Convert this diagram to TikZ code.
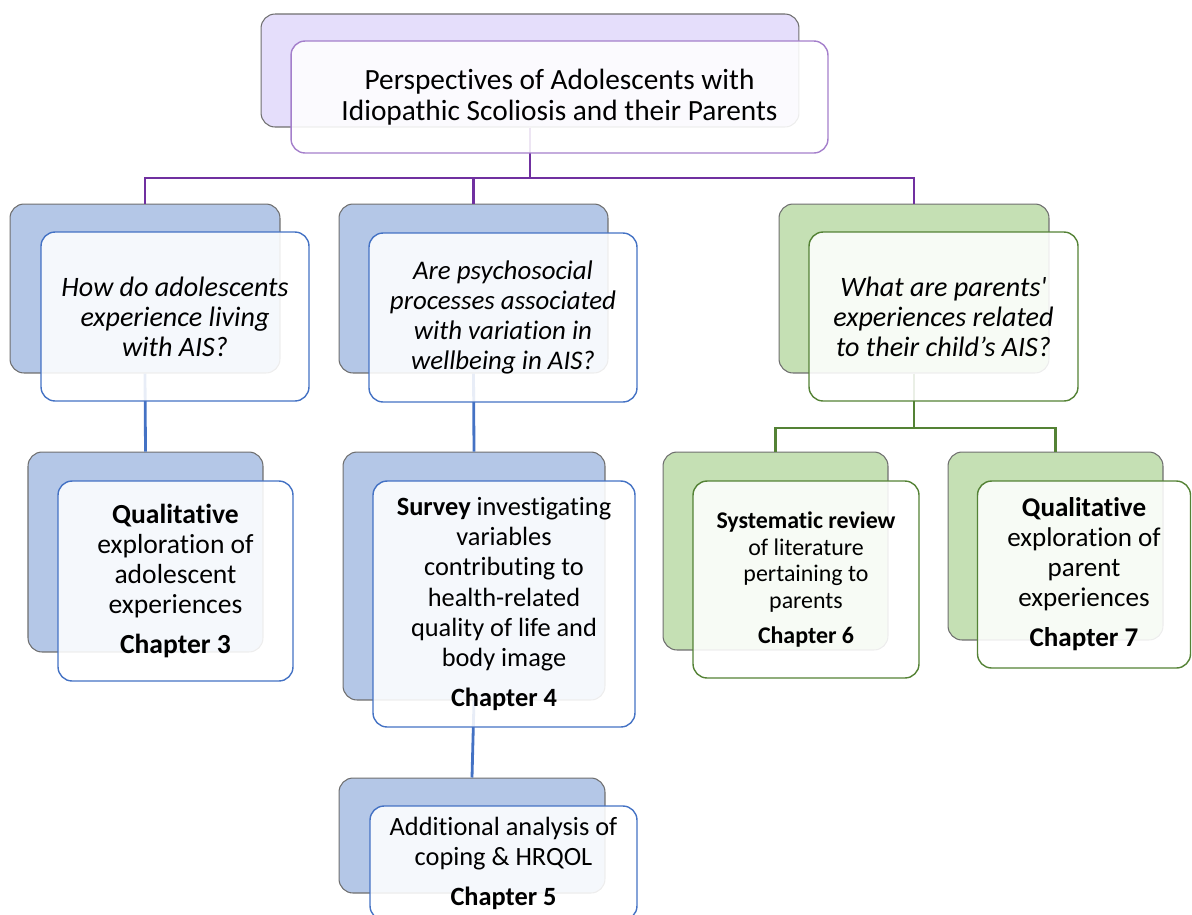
\documentclass[tikz,border=0pt]{standalone}
\usepackage{fontspec}
\setmainfont[Ligatures=NoCommon, RawFeature={-liga;-clig;-calt;-dlig}]{Carlito}
\usetikzlibrary{positioning}

\definecolor{lilac}{HTML}{E5DEFB}
\definecolor{lilacline}{HTML}{A47FCB}
\definecolor{plum}{HTML}{7030A0}
\definecolor{skyfill}{HTML}{B4C7E7}
\definecolor{skyline}{HTML}{4472C4}
\definecolor{sagefill}{HTML}{C5E0B4}
\definecolor{sageline}{HTML}{548235}
\definecolor{shade}{HTML}{6F6F6F}

\tikzset{
  backcard/.style={draw=shade, line width=0.6pt, rounded corners=8pt, inner sep=0pt},
  frontcard/.style={draw=#1, line width=0.8pt, rounded corners=8pt, fill=white,
    fill opacity=0.88, text opacity=1, align=center, inner sep=0pt,
    font=\fontsize{15}{17.1}\selectfont},
  link/.style={draw=#1, line width=1.6pt}
}

\begin{document}
\begin{tikzpicture}[x=0.02cm, y=-0.02cm]
    \useasboundingbox (0,0) rectangle (1192,914);

    % back cards
    \node[backcard, fill=lilac, minimum width=10.76cm, minimum height=2.26cm] (topback) at (530,70.5) {};
    \node[backcard, fill=skyfill, minimum width=5.4cm, minimum height=3.38cm] (qaback) at (145,288.5) {};
    \node[backcard, fill=skyfill, minimum width=5.38cm, minimum height=3.38cm] (qbback) at (473.5,288.5) {};
    \node[backcard, fill=sagefill, minimum width=5.4cm, minimum height=3.38cm] (qcback) at (914,288.5) {};
    \node[backcard, fill=skyfill, minimum width=4.7cm, minimum height=4cm] (chaback) at (145.5,552) {};
    \node[backcard, fill=skyfill, minimum width=5.24cm, minimum height=4.96cm] (chbback) at (474,576) {};
    \node[backcard, fill=skyfill, minimum width=5.32cm, minimum height=2.3cm] (chb2back) at (472,835.5) {};
    \node[backcard, fill=sagefill, minimum width=4.5cm, minimum height=3.96cm] (chc1back) at (775.5,551) {};
    \node[backcard, fill=sagefill, minimum width=4.3cm, minimum height=3.76cm] (chc2back) at (1055.5,546) {};

    % connectors
    \coordinate (tophub) at (530,178);
    \coordinate (parhub) at (914,428);
    \draw[link=plum] (topback.south) -- (tophub);
    \draw[link=plum] (tophub) -| (qaback.north);
    \draw[link=plum] (tophub) -| (qbback.north);
    \draw[link=plum] (tophub) -| (qcback.north);
    \draw[link=skyline] (qaback.south) -- (chaback.north);
    \draw[link=skyline] (qbback.south) -- (chbback.north);
    \draw[link=skyline] (chbback.south) -- (chb2back.north);
    \draw[link=sageline] (qcback.south) -- (parhub);
    \draw[link=sageline] (parhub) -| (chc1back.north);
    \draw[link=sageline] (parhub) -| (chc2back.north);

    % front cards
    \node[frontcard=lilacline, minimum width=10.74cm, minimum height=2.24cm, font=\fontsize{16.7}{18}\selectfont] (topfront) at (559.5,97)
        {Perspectives of Adolescents with\\ Idiopathic Scoliosis and their Parents};
    \node[frontcard=skyline, minimum width=5.36cm, minimum height=3.38cm, font=\fontsize{16}{17.1}\selectfont] (qafront) at (175,316.5)
        {\itshape How do adolescents\\ \itshape experience living\\ \itshape with AIS?};
    \node[frontcard=skyline, minimum width=5.36cm, minimum height=3.38cm, font=\fontsize{15.3}{17.1}\selectfont] (qbfront) at (503,317.5)
        {\itshape Are psychosocial\\ \itshape processes associated\\ \itshape with variation in\\ \itshape wellbeing in AIS?};
    \node[frontcard=sageline, minimum width=5.38cm, minimum height=3.38cm, font=\fontsize{16}{17.1}\selectfont] (qcfront) at (943.5,316.5)
        {\itshape What are parents\textquotesingle\\ \itshape experiences related\\ \itshape to their child’s AIS?};
    \node[frontcard=skyline, minimum width=4.7cm, minimum height=4cm, font=\fontsize{15.7}{17.1}\selectfont] (chafront) at (175.5,581)
        {\textbf{Qualitative}\\ exploration of\\ adolescent\\ experiences\\[5.7pt] \textbf{Chapter 3}};
    \node[frontcard=skyline, minimum width=5.24cm, minimum height=4.92cm] (chbfront) at (504,604)
        {\textbf{Survey} investigating\\ variables\\ contributing to\\ health-related\\ quality of life and\\ body image\\[5.7pt] \textbf{Chapter 4}};
    \node[frontcard=skyline, minimum width=5.34cm, minimum height=2.28cm] (chb2front) at (503.5,863)
        {Additional analysis of\\ coping \& HRQOL\\[5.7pt] \textbf{Chapter 5}};
    \node[frontcard=sageline, minimum width=4.52cm, minimum height=3.94cm, font=\fontsize{13.6}{15.1}\selectfont] (chc1front) at (806,579.5)
        {\textbf{Systematic review}\\ of literature\\ pertaining to\\ parents\\[5pt] \textbf{Chapter 6}};
    \node[frontcard=sageline, minimum width=4.26cm, minimum height=3.74cm, font=\fontsize{15.4}{17.1}\selectfont] (chc2front) at (1084,574.5)
        {\textbf{Qualitative}\\ exploration of\\ parent\\ experiences\\[5.7pt] \textbf{Chapter 7}};
\end{tikzpicture}
\end{document}
